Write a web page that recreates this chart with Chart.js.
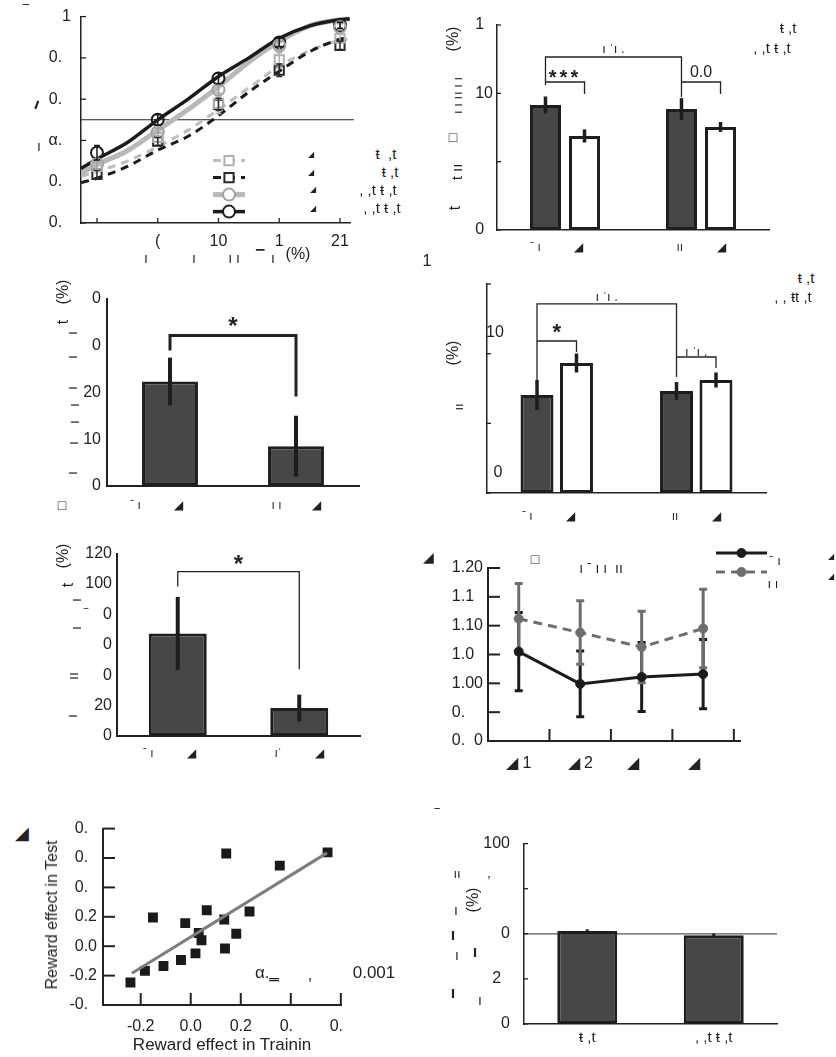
<!DOCTYPE html>
<html>
<head>
<meta charset="utf-8">
<script src="https://cdn.jsdelivr.net/npm/chart.js@4.4.0/dist/chart.umd.min.js"></script>
<style>
  body { margin: 0; background: #fff; width: 836px; height: 1057px; position: relative; overflow: hidden;
         font-family: 'Liberation Sans', Arial, sans-serif; color: #222; }
  canvas { position: absolute; }
  .note { position: absolute; white-space: pre; line-height: 1; }
</style>
</head>
<body>
<canvas id="cA"></canvas>
<canvas id="cB"></canvas>
<canvas id="cC"></canvas>
<canvas id="cD"></canvas>
<canvas id="cE"></canvas>
<canvas id="cF"></canvas>
<canvas id="cG"></canvas>
<canvas id="cH"></canvas>
<script>
// ---- panel A : psychometric curves ----
const contrastPos = [1, 2, 3, 4, 5];
const contrastLabels = ['', '(', '10', '1', '21'];
const yTicksA = [0, 0.2, 0.4, 0.6, 0.8, 1];
const yLabelsA = ['0.\u2007', '0.\u2007', 'α.\u2007', '0.\u2007', '0.\u2007', '1'];
const circBlack = [0.34, 0.50, 0.70, 0.875, 0.958];
const errCircBlack = [0.035, 0.025, 0.025, 0.02, 0.015];
const circGray = [0.285, 0.44, 0.646, 0.86, 0.95];
const errCircGray = [0.025, 0.02, 0.03, 0.02, 0.015];
const sqLight = [0.274, 0.415, 0.58, 0.79, 0.895];
const errSqLight = [0.02, 0.02, 0.05, 0.035, 0.02];
const sqDark = [0.236, 0.396, 0.575, 0.74, 0.86];
const errSqDark = [0.02, 0.02, 0.03, 0.03, 0.02];
const fitX = [0.74, 1, 1.5, 2, 2.5, 3, 3.5, 4, 4.5, 5, 5.16];
const fitBlack = [0.264, 0.31, 0.39, 0.50, 0.60, 0.71, 0.80, 0.895, 0.955, 0.985, 0.99];
const fitGray = [0.24, 0.283, 0.35, 0.45, 0.55, 0.66, 0.78, 0.88, 0.955, 0.985, 0.99];
const fitDashBlack = [0.195, 0.217, 0.274, 0.353, 0.42, 0.52, 0.635, 0.735, 0.83, 0.89, 0.897];
const fitDashLight = [0.226, 0.25, 0.30, 0.37, 0.45, 0.55, 0.655, 0.76, 0.835, 0.885, 0.892];

// ---- panel B ----
const catsB = ['ˉ ı          ◢     ', 'ıı          ◢'];
const yTicksB = [0, 50, 100, 150];
const yLabelsB = ['0\u2007', '', '10', '1\u2007'];
const darkB = [91.5, 88.5];
const errDarkB = [6.2, 8];
const whiteB = [68.8, 75.4];
const errWhiteB = [4.8, 3.6];

// ---- panel C ----
const catsC = ['ˉ ı          ◢        ', 'ı ı         ◢'];
const yTicksC = [0, 10, 20, 30, 40];
const yLabelsC = ['0', '10', '20', '0', '0'];
const valsC = [22.3, 8.5];
const errC = [5.1, 6.5];

// ---- panel D ----
const catsD = ['ˉ ı          ◢     ', 'ıı          ◢'];
const yTicksD = [0, 50, 100, 150];
const yLabelsD = ['', '', '', ''];
const darkD = [70.3, 73.2];
const errDarkD = [10.8, 6.5];
const whiteD = [93.3, 81.1];
const errWhiteD = [6.8, 5.4];

// ---- panel E ----
const catsE = ['ˉ ı          ◢     ', 'ıˈ          ◢'];
const yTicksE = [0, 20, 40, 60, 80, 100, 120];
const yLabelsE = ['0', '20', '0', '0', '0', '100', '120'];
const valsE = [67.5, 18.4];
const errE = [24, 8.8];

// ---- panel F ----
const blocks = [1, 2, 3, 4];
const blockLabels = ['◢ 1', '◢ 2', '◢    ', '◢    '];
const yTicksF = [0.9, 0.95, 1.0, 1.05, 1.1, 1.15, 1.2];
const yLabelsF = ['0.\u20070', '0.\u2007\u2007', '1.00', '1.0\u2007', '1.10', '1.1\u2007', '1.20'];
const lineBlack = [1.055, 0.999, 1.011, 1.016];
const errLineBlack = [0.068, 0.057, 0.06, 0.06];
const lineGray = [1.112, 1.088, 1.063, 1.095];
const errLineGray = [0.061, 0.055, 0.062, 0.068];

// ---- panel G ----
const trainEffect = [-0.241, -0.183, -0.109, -0.151, -0.039, -0.022, 0.019, 0.032, 0.043, 0.064, 0.134, 0.137, 0.142, 0.182, 0.235, 0.356, 0.547];
const testEffect = [-0.247, -0.168, -0.135, 0.195, -0.094, 0.157, -0.049, 0.090, 0.040, 0.245, 0.182, -0.016, 0.631, 0.085, 0.236, 0.548, 0.638];
const regX = [-0.235, 0.545];
const regY = [-0.184, 0.635];
const xTicksG = [-0.2, 0, 0.2, 0.4, 0.6];
const xLabelsG = ['-0.2', '0.0', '0.2', '0.\u2007', '0.\u2007'];
const yTicksG = [-0.4, -0.2, 0, 0.2, 0.4, 0.6, 0.8];
const yLabelsG = ['-0.\u2007', '-0.2', '0.0', '0.2', '0.\u2007', '0.\u2007', '0.\u2007'];

// ---- panel H ----
const catsH = ['ŧ ,t', ', ,t ŧ ,t'];
const yTicksH = [0, 25, 50, 75, 100];
const yLabelsH = ['0', '2\u2007', '0', '', '100'];
const valsH = [51.5, 49.2];
const errH = [1, 1];

const DARK = '#474747', EDGE = '#1e1e1e';

Chart.defaults.font.family = "'Liberation Sans', Arial, sans-serif";
Chart.defaults.font.size = 16;
Chart.defaults.color = '#222';
Chart.defaults.animation = false;
Chart.defaults.plugins.legend.display = false;
Chart.defaults.plugins.tooltip.enabled = false;

// ticks drawn on the inside of the axes
const innerTicks = {
  id: 'innerTicks',
  afterDraw(chart, args, o) {
    const ctx = chart.ctx, a = chart.chartArea, len = o.len || 5;
    ctx.save();
    ctx.strokeStyle = '#222';
    ctx.lineWidth = o.lw || 1.3;
    const xs = chart.scales.x, ys = chart.scales.y;
    const xv = o.x === 'auto' ? xs.ticks.map(t => t.value) : (o.x || []);
    const yv = o.y === 'auto' ? ys.ticks.map(t => t.value) : (o.y || []);
    xv.forEach(v => {
      const p = xs.getPixelForValue(v);
      ctx.beginPath(); ctx.moveTo(p, a.bottom); ctx.lineTo(p, a.bottom - len); ctx.stroke();
    });
    yv.forEach(v => {
      const p = ys.getPixelForValue(v);
      ctx.beginPath(); ctx.moveTo(a.left, p); ctx.lineTo(a.left + len, p); ctx.stroke();
    });
    ctx.restore();
  }
};

function drawErrs(chart, under) {
  const ys = chart.scales.y, ctx = chart.ctx;
  chart.data.datasets.forEach((ds, i) => {
    if (!ds.errs || !!ds.errUnder !== under) return;
    const meta = chart.getDatasetMeta(i);
    ctx.save();
    ctx.strokeStyle = ds.errColor || EDGE;
    ctx.lineWidth = ds.errWidth || 3;
    meta.data.forEach((el, j) => {
      const d = ds.data[j];
      const v = typeof d === 'object' ? d.y : d;
      const e = ds.errs[j];
      const p1 = ys.getPixelForValue(v - e), p2 = ys.getPixelForValue(v + e);
      ctx.beginPath();
      ctx.moveTo(el.x, p1); ctx.lineTo(el.x, p2);
      if (ds.errCap) {
        ctx.moveTo(el.x - ds.errCap, p1); ctx.lineTo(el.x + ds.errCap, p1);
        ctx.moveTo(el.x - ds.errCap, p2); ctx.lineTo(el.x + ds.errCap, p2);
      }
      ctx.stroke();
    });
    ctx.restore();
  });
}
const errBars = {
  id: 'errBars',
  beforeDatasetsDraw(chart) { drawErrs(chart, true); },
  afterDatasetsDraw(chart) { drawErrs(chart, false); }
};

// significance brackets between bars
const brackets = {
  id: 'brackets',
  afterDraw(chart, args, o) {
    if (!o.list) return;
    const ys = chart.scales.y, ctx = chart.ctx;
    o.list.forEach(b => {
      const x1 = chart.getDatasetMeta(b.a[0]).data[b.a[1]].x;
      const x2 = chart.getDatasetMeta(b.b[0]).data[b.b[1]].x;
      const py = ys.getPixelForValue(b.y), p1 = ys.getPixelForValue(b.y1), p2 = ys.getPixelForValue(b.y2);
      ctx.save();
      ctx.strokeStyle = '#222';
      ctx.lineWidth = b.lw || 1.3;
      ctx.beginPath();
      ctx.moveTo(x1, p1); ctx.lineTo(x1, py); ctx.lineTo(x2, py); ctx.lineTo(x2, p2);
      ctx.stroke();
      if (b.text) {
        ctx.fillStyle = '#222';
        ctx.font = b.font || "bold 20px 'Liberation Sans', Arial";
        if (b.spacing) ctx.letterSpacing = b.spacing;
        ctx.textAlign = 'center';
        ctx.textBaseline = 'bottom';
        ctx.fillText(b.text, (x1 + x2) / 2, py - (b.ty || 0));
      }
      ctx.restore();
    });
  }
};

const refLine = {
  id: 'refLine',
  beforeDatasetsDraw(chart, args, o) {
    if (o.y === undefined) return;
    const ctx = chart.ctx, a = chart.chartArea, p = chart.scales.y.getPixelForValue(o.y);
    ctx.save();
    ctx.strokeStyle = o.color || '#222';
    ctx.lineWidth = o.lw || 1;
    ctx.beginPath(); ctx.moveTo(a.left, p); ctx.lineTo(a.right + (o.ext || 0), p); ctx.stroke();
    ctx.restore();
  }
};

// legend made of a line sample with a marker on it
const lineLegend = {
  id: 'lineLegend',
  afterDatasetsDraw(chart, args, o) {
    if (!o.items) return;
    const ctx = chart.ctx, a = chart.chartArea;
    o.items.forEach((it, k) => {
      const ln = chart.data.datasets[it.line], pt = chart.data.datasets[it.point];
      const y = a.top + o.y + k * o.dy, x1 = a.left + o.x, x2 = x1 + o.len;
      ctx.save();
      ctx.strokeStyle = ln.borderColor;
      ctx.lineWidth = ln.borderWidth;
      ctx.setLineDash(ln.borderDash || []);
      ctx.beginPath(); ctx.moveTo(x1, y); ctx.lineTo(x2, y); ctx.stroke();
      ctx.setLineDash([]);
      ctx.strokeStyle = pt.pointBorderColor;
      ctx.fillStyle = o.fill || pt.pointBackgroundColor;
      ctx.lineWidth = pt.pointBorderWidth;
      Chart.helpers.drawPoint(ctx, { pointStyle: pt.pointStyle, radius: pt.pointRadius, rotation: 0, borderWidth: pt.pointBorderWidth }, (x1 + x2) / 2, y);
      ctx.restore();
    });
  }
};

Chart.register(innerTicks, errBars, brackets, refLine, lineLegend);

function frame(id, l, t, r, b, yw, xh, pt, pr) {
  const c = document.getElementById(id);
  const w = r - l + yw + pr, h = b - t + pt + xh;
  c.style.left = (l - yw) + 'px';
  c.style.top = (t - pt) + 'px';
  c.style.width = w + 'px';
  c.style.height = h + 'px';
  c.width = w;
  c.height = h;
  return { canvas: c, padding: { left: 0, top: pt, right: pr, bottom: 0 } };
}

function yScale(vals, labels, w, pad, bw) {
  return {
    type: 'linear', position: 'left', min: vals[0], max: vals[vals.length - 1],
    afterBuildTicks: s => { s.ticks = vals.map(v => ({ value: v })); },
    ticks: { autoSkip: false, padding: pad, callback: (v, i) => labels[i] },
    grid: { display: false, drawTicks: false },
    border: { display: true, color: '#222', width: bw || 1.5 },
    afterFit: s => { s.width = w; }
  };
}
function xLinear(min, max, vals, labels, h, pad, bw) {
  return {
    type: 'linear', position: 'bottom', min, max,
    afterBuildTicks: s => { s.ticks = vals.map(v => ({ value: v })); },
    ticks: { autoSkip: false, maxRotation: 0, padding: pad, callback: (v, i) => labels[i] },
    grid: { display: false, drawTicks: false },
    border: { display: true, color: '#222', width: bw || 1.5 },
    afterFit: s => { s.height = h; }
  };
}
function xCat(h, pad, size, bw) {
  return {
    type: 'category', position: 'bottom',
    ticks: { autoSkip: false, maxRotation: 0, padding: pad, font: { size } },
    grid: { display: false, drawTicks: false },
    border: { display: true, color: '#222', width: bw || 1.5 },
    afterFit: s => { s.height = h; }
  };
}
const pts = (xs, ys) => xs.map((x, i) => ({ x, y: ys[i] }));

// ---------- A ----------
function curve(vals, color, width, dash, order) {
  return { data: pts(fitX, vals), borderColor: color, borderWidth: width, borderDash: dash,
           pointRadius: 0, cubicInterpolationMode: 'monotone', fill: false, order };
}
function marks(vals, errs, style, color, radius) {
  return { data: pts(contrastPos, vals), showLine: false, pointStyle: style, pointRadius: radius,
           pointBorderWidth: 2, pointBorderColor: color, pointBackgroundColor: 'rgba(255,255,255,0)',
           borderColor: color, errs, errColor: color, errWidth: 1.5, errCap: 3, order: 0 };
}
const fA = frame('cA', 81, 11, 350, 223, 60, 32, 14, 14);
new Chart(fA.canvas, {
  type: 'line',
  data: { datasets: [
    curve(fitBlack, '#1b1b1b', 3.5, [], 1),
    curve(fitGray, '#b8b8b8', 5, [], 2),
    curve(fitDashBlack, '#1b1b1b', 3, [8, 6], 3),
    curve(fitDashLight, '#bebebe', 3, [8, 6], 3),
    marks(sqLight, errSqLight, 'rect', '#b0b0b0', 6.5),
    marks(sqDark, errSqDark, 'rect', '#2a2a2a', 6.5),
    marks(circGray, errCircGray, 'circle', '#a0a0a0', 6),
    marks(circBlack, errCircBlack, 'circle', '#1b1b1b', 6)
  ] },
  options: {
    responsive: false, layout: { padding: fA.padding },
    scales: { x: xLinear(0.737, 5.165, contrastPos, contrastLabels, 32, 9), y: yScale(yTicksA, yLabelsA, 60, 10) },
    plugins: {
      innerTicks: { x: 'auto', y: 'auto', len: 5 },
      refLine: { y: 0.5, color: '#222', lw: 1.1, ext: 4 },
      lineLegend: { x: 132, y: 144, dy: 17, len: 32, fill: '#fff',
        items: [{ line: 3, point: 4 }, { line: 2, point: 5 }, { line: 1, point: 6 }, { line: 0, point: 7 }] }
    }
  }
});

// ---------- B ----------
const fB = frame('cB', 497, 25, 769, 230, 60, 32, 14, 14);
new Chart(fB.canvas, {
  type: 'bar',
  data: { labels: catsB, datasets: [
    { data: darkB, backgroundColor: DARK, borderColor: EDGE, borderWidth: 3, borderSkipped: false,
      categoryPercentage: 0.574, barPercentage: 0.795, errs: errDarkB, errWidth: 3.5 },
    { data: whiteB, backgroundColor: '#fff', borderColor: EDGE, borderWidth: 3, borderSkipped: false,
      categoryPercentage: 0.574, barPercentage: 0.795, errs: errWhiteB, errWidth: 3.5 }
  ] },
  options: {
    responsive: false, layout: { padding: fB.padding },
    scales: { x: xCat(32, 10, 12), y: yScale(yTicksB, yLabelsB, 60, 4) },
    plugins: {
      innerTicks: { y: 'auto', len: 4 },
      brackets: { list: [
        { a: [0, 0], b: [0, 1], y: 126.6, y1: 106, y2: 97.3, text: 'ı ˈı .', font: "13px 'Liberation Sans', Arial", ty: 1 },
        { a: [0, 0], b: [1, 0], y: 108.3, y1: 108.3, y2: 99.5, text: '***', spacing: '3px', ty: -6 },
        { a: [0, 1], b: [1, 1], y: 108.3, y1: 108.3, y2: 99.5, text: '0.0', font: "16px 'Liberation Sans', Arial", ty: 1 }
      ] }
    }
  }
});

// ---------- C ----------
const fC = frame('cC', 107, 297, 359, 486, 60, 32, 14, 14);
new Chart(fC.canvas, {
  type: 'bar',
  data: { labels: catsC, datasets: [
    { data: valsC, backgroundColor: DARK, borderColor: EDGE, borderWidth: 3, borderSkipped: false,
      categoryPercentage: 1, barPercentage: 0.444, errs: errC, errWidth: 4 }
  ] },
  options: {
    responsive: false, layout: { padding: fC.padding },
    scales: { x: xCat(32, 12, 12, 2), y: yScale(yTicksC, yLabelsC, 60, 6, 2) },
    plugins: {
      brackets: { list: [
        { a: [0, 0], b: [0, 1], y: 32.1, y1: 28.9, y2: 19.1, lw: 3, text: '*', font: "bold 24px 'Liberation Sans', Arial", ty: -4 }
      ] }
    }
  }
});

// ---------- D ----------
const fD = frame('cD', 487, 284, 766, 493, 40, 40, 14, 14);
new Chart(fD.canvas, {
  type: 'bar',
  data: { labels: catsD, datasets: [
    { data: darkD, backgroundColor: DARK, borderColor: EDGE, borderWidth: 3, borderSkipped: false,
      categoryPercentage: 0.566, barPercentage: 0.835, errs: errDarkD, errWidth: 3.5 },
    { data: whiteD, backgroundColor: '#fff', borderColor: EDGE, borderWidth: 3, borderSkipped: false,
      categoryPercentage: 0.566, barPercentage: 0.835, errs: errWhiteD, errWidth: 3.5 }
  ] },
  options: {
    responsive: false, layout: { padding: fD.padding },
    scales: { x: xCat(40, 16, 12), y: yScale(yTicksD, yLabelsD, 40, 4) },
    plugins: {
      innerTicks: { y: 'auto', len: 4 },
      brackets: { list: [
        { a: [0, 0], b: [0, 1], y: 135.7, y1: 81.1, y2: 83.3, text: 'ı ˈı .', font: "13px 'Liberation Sans', Arial", ty: 0 },
        { a: [0, 0], b: [1, 0], y: 109.1, y1: 109.1, y2: 101.2, text: '*', font: "bold 22px 'Liberation Sans', Arial", ty: -3 },
        { a: [0, 1], b: [1, 1], y: 97.6, y1: 97.6, y2: 89.7, text: 'ı ˈı .', font: "13px 'Liberation Sans', Arial", ty: -2 }
      ] }
    }
  }
});

// ---------- E ----------
const fE = frame('cE', 117, 553, 360, 736, 70, 32, 14, 14);
new Chart(fE.canvas, {
  type: 'bar',
  data: { labels: catsE, datasets: [
    { data: valsE, backgroundColor: DARK, borderColor: EDGE, borderWidth: 3, borderSkipped: false,
      categoryPercentage: 1, barPercentage: 0.477, errs: errE, errWidth: 4 }
  ] },
  options: {
    responsive: false, layout: { padding: fE.padding },
    scales: { x: xCat(32, 10, 12, 2), y: yScale(yTicksE, yLabelsE, 70, 5, 2) },
    plugins: {
      brackets: { list: [
        { a: [0, 0], b: [0, 1], y: 108.2, y1: 98.4, y2: 43.9, lw: 1.3, text: '*', font: "bold 24px 'Liberation Sans', Arial", ty: -6 }
      ] }
    }
  }
});

// ---------- F ----------
const fF = frame('cF', 488, 568, 740, 741, 70, 34, 30, 100);
new Chart(fF.canvas, {
  type: 'line',
  data: { datasets: [
    { data: pts(blocks, lineBlack), borderColor: '#1b1b1b', borderWidth: 3, pointRadius: 4.5,
      pointStyle: 'circle', pointBackgroundColor: '#1b1b1b', pointBorderColor: '#1b1b1b', pointBorderWidth: 1,
      errs: errLineBlack, errColor: '#1b1b1b', errWidth: 3, errCap: 4, errUnder: true },
    { data: pts(blocks, lineGray), borderColor: '#6e6e6e', borderWidth: 3, borderDash: [9, 6], pointRadius: 4.5,
      pointStyle: 'circle', pointBackgroundColor: '#6e6e6e', pointBorderColor: '#6e6e6e', pointBorderWidth: 1,
      errs: errLineGray, errColor: '#6e6e6e', errWidth: 3, errCap: 4, errUnder: true }
  ] },
  options: {
    responsive: false, layout: { padding: fF.padding },
    scales: { x: xLinear(0.5, 4.6, blocks, blockLabels, 34, 13, 2), y: yScale(yTicksF, yLabelsF, 70, 5, 2) },
    plugins: {
      innerTicks: { x: [1.5, 2.5, 3.5, 4.5], y: 'auto', len: 12, lw: 2 },
      lineLegend: { x: 228, y: -15, dy: 19, len: 51, items: [{ line: 0, point: 0 }, { line: 1, point: 1 }] }
    }
  }
});

// ---------- G ----------
const fG = frame('cG', 103, 827, 350, 1005, 70, 34, 14, 14);
new Chart(fG.canvas, {
  type: 'scatter',
  data: { datasets: [
    { type: 'line', data: pts(regX, regY), borderColor: '#7d7d7d', borderWidth: 3, pointRadius: 0, order: 0 },
    { data: pts(trainEffect, testEffect), pointStyle: 'rect', pointRadius: 7, backgroundColor: '#1a1a1a',
      borderColor: '#1a1a1a', pointBorderWidth: 0, order: 1 }
  ] },
  options: {
    responsive: false, layout: { padding: fG.padding },
    scales: { x: xLinear(-0.3507, 0.6039, xTicksG, xLabelsG, 34, 12, 2), y: yScale(yTicksG, yLabelsG, 70, 6, 2) },
    plugins: { innerTicks: { x: 'auto', y: 'auto', len: 12, lw: 2 } }
  }
});

// ---------- H ----------
const fH = frame('cH', 524, 834, 777, 1024, 70, 30, 14, 14);
new Chart(fH.canvas, {
  type: 'bar',
  data: { labels: catsH, datasets: [
    { data: valsH, backgroundColor: DARK, borderColor: EDGE, borderWidth: 3, borderSkipped: false,
      categoryPercentage: 1, barPercentage: 0.474, errs: errH, errWidth: 3 }
  ] },
  options: {
    responsive: false, layout: { padding: fH.padding },
    scales: { x: xCat(30, 5, 15), y: yScale(yTicksH, yLabelsH, 70, 14) },
    plugins: {
      innerTicks: { y: 'auto', len: 4 },
      refLine: { y: 50, color: '#555', lw: 1.3 }
    }
  }
});

// stray text fragments of the figure: [centre x, centre y, text, size, rotation, weight]
const notes = [
  [26, 12, '‾', 16], [37, 104, 'ı', 16, 20, 'bold'], [39, 146, 'ı', 14],
  [146, 258, 'ı', 14], [194, 258, 'ı', 14], [234, 258, 'ı ı', 14], [260, 255, '▔', 11], [273, 258, 'ı', 14], [298, 254, '(%)', 16],
  [386, 153, 'ŧ  ,t', 15], [390, 171, 'ŧ ,t', 15], [378, 189, ', ,t ŧ ,t', 15], [382, 207, ', ,t ŧ ,t', 15],
  [311, 155, '◢', 8], [311, 173, '◢', 8], [313, 190, '◢', 8], [313, 209, '◢', 8],
  [427, 261, '1', 16],
  [453, 39, '(%)', 16, -90], [457, 86, 'ı ı ı', 13, -90], [457, 105, 'ı ı ı', 13, -90], [453, 137, '□', 14],
  [456, 172, 't ıı', 15, -90], [455, 208, 't', 16, -90],
  [788, 27, 'ŧ ,t', 15], [772, 47, ', ,t ŧ ,t', 15],
  [63, 292, '(%)', 16, -90], [63, 322, 't', 16, -90],
  [72, 333, 'ı', 14, -90], [72, 357, 'ı', 14, -90], [72, 388, 'ı', 14, -90], [74, 405, 'ı', 14, -90],
  [74, 422, 'ı', 14, -90], [73, 443, 'ı', 14, -90], [72, 473, 'ı', 14, -90], [62, 505, '□', 14],
  [495, 332, '10', 16], [498, 472, '0', 16], [453, 353, '(%)', 16, -90], [458, 407, 'ıı', 13, -90],
  [806, 277, 'ŧ ,t', 15], [793, 296, ', , ŧt ,t', 15],
  [63, 556, '(%)', 16, -90], [68, 585, 't', 16, -90], [76, 600, 'ı', 14, -90], [86, 614, '‾', 12],
  [76, 628, 'ı', 14, -90], [73, 676, 'ıı', 14, -90], [72, 716, 'ı', 14, -90],
  [428, 557, '◢', 14], [535, 559, '□', 14], [601, 568, 'ı ˉ ı ı  ıı', 14], [775, 560, 'ˉ ı', 13], [773, 583, 'ı ı', 13],
  [831, 557, '◢', 8], [831, 577, '◢', 8],
  [22, 833, '◢', 18], [52, 915, 'Reward effect in Test', 16, -90], [222, 1044, 'Reward effect in Trainin', 17],
  [267, 972, 'α.‗', 17], [310, 975, ',', 16], [374, 972, '0.001', 17],
  [437, 815, '‾', 14], [457, 873, 'ıı', 13], [489, 882, 'ʼ', 14], [473, 900, '(%)', 16, -90],
  [456, 910, 'ı', 14], [453, 935, 'ı', 16, 0, 'bold'], [457, 955, 'ı', 14], [475, 952, 'ı', 16, 0, 'bold'],
  [453, 993, 'ı', 16, 0, 'bold'], [480, 1000, 'ı', 14]
];
notes.forEach(([x, y, text, size, rot, weight]) => {
  const d = document.createElement('div');
  d.className = 'note';
  d.textContent = text;
  d.style.left = x + 'px';
  d.style.top = y + 'px';
  d.style.fontSize = size + 'px';
  if (weight) d.style.fontWeight = weight;
  d.style.transform = 'translate(-50%, -50%)' + (rot ? ` rotate(${rot}deg)` : '');
  document.body.appendChild(d);
});
</script>
</body>
</html>
